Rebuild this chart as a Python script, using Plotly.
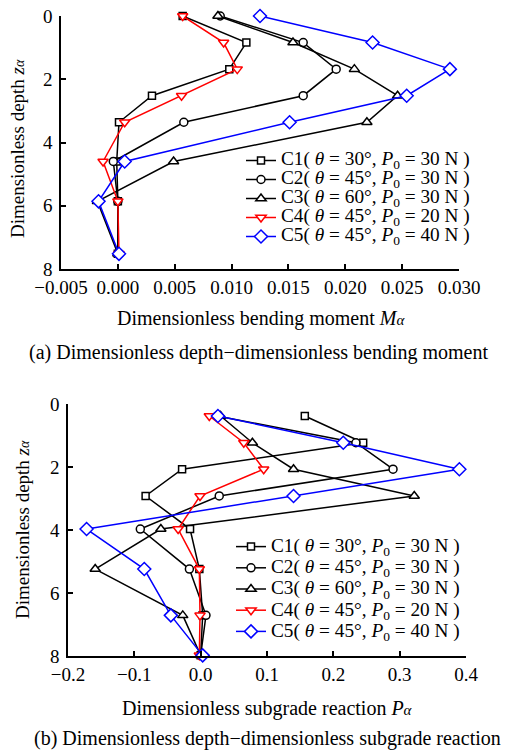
import plotly.graph_objects as go

W, H = 514, 751
FONT = "Liberation Serif, Times New Roman, serif"

# ---- data -------------------------------------------------------------
case_names = ["C1", "C2", "C3", "C4", "C5"]
theta_deg = [30, 45, 60, 45, 45]
load_n = [30, 30, 30, 20, 40]

# (a) bending moment along the pile
depth_moment = [0, 0.84, 1.68, 2.52, 3.36, 4.60, 5.86, 7.52]
moment_c1 = [0.0057, 0.0113, 0.0098, 0.0030, 0.0001, -0.0001, 0.0000, 0.0000]
moment_c2 = [0.0090, 0.0163, 0.0192, 0.0163, 0.0058, -0.0004, 0.0000, 0.0000]
moment_c3 = [0.0088, 0.0154, 0.0208, 0.0246, 0.0219, 0.0049, -0.0018, 0.0000]
moment_c4 = [0.0057, 0.0093, 0.0105, 0.0056, 0.0006, -0.0013, 0.0000, 0.0001]
moment_c5 = [0.0125, 0.0224, 0.0292, 0.0254, 0.0151, 0.0006, -0.0017, 0.0001]

# (b) subgrade reaction along the pile
depth_reaction = [0.38, 1.23, 2.07, 2.92, 3.97, 5.24, 6.71, 7.98]
reaction_c1 = [0.157, 0.245, -0.028, -0.083, -0.016, -0.002, 0.003, 0.000]
reaction_c2 = [0.025, 0.234, 0.290, 0.028, -0.091, -0.017, 0.008, 0.000]
reaction_c3 = [0.030, 0.078, 0.140, 0.322, -0.060, -0.159, -0.027, 0.000]
reaction_c4 = [0.013, 0.065, 0.095, -0.001, -0.034, -0.002, -0.001, -0.002]
reaction_c5 = [0.026, 0.215, 0.390, 0.140, -0.172, -0.085, -0.045, 0.003]

depth_ticks = [0, 2, 4, 6, 8]
moment_ticks = [-0.005, 0.000, 0.005, 0.010, 0.015, 0.020, 0.025, 0.030]
reaction_ticks = [-0.2, -0.1, 0.0, 0.1, 0.2, 0.3, 0.4]

# ---- styles -----------------------------------------------------------
colors = ["black", "black", "black", "red", "blue"]
symbols = ["square", "circle", "triangle-up", "triangle-down", "diamond"]
sizes = [7, 8, 9, 9, 10]


def px_x(p):
    return p / W


def px_y(p):
    return 1 - p / H


def label(i):
    return ("<span style='font-size:19.3px'>%s( <i>θ</i> = %d°, <i>P</i><sub>0</sub> = %d N )</span>"
            % (case_names[i], theta_deg[i], load_n[i]))


fig = go.Figure()

moments = [moment_c1, moment_c2, moment_c3, moment_c4, moment_c5]
reactions = [reaction_c1, reaction_c2, reaction_c3, reaction_c4, reaction_c5]

for i in range(5):
    fig.add_trace(go.Scatter(
        x=moments[i], y=depth_moment, mode="lines+markers", name=label(i),
        line=dict(color=colors[i], width=1.5),
        marker=dict(symbol=symbols[i], size=sizes[i], color="white",
                    line=dict(color=colors[i], width=1.5)),
        xaxis="x", yaxis="y", legend="legend", cliponaxis=False))

for i in range(5):
    fig.add_trace(go.Scatter(
        x=reactions[i], y=depth_reaction, mode="lines+markers", name=label(i),
        line=dict(color=colors[i], width=1.5),
        marker=dict(symbol=symbols[i], size=sizes[i], color="white",
                    line=dict(color=colors[i], width=1.5)),
        xaxis="x2", yaxis="y2", legend="legend2", cliponaxis=False))

axis_common = dict(showgrid=False, zeroline=False, showline=True, linecolor="black",
                   linewidth=1.5, ticks="inside", ticklen=5, tickwidth=1.5, tickcolor="black",
                   automargin=False,
                   tickfont=dict(family=FONT, size=19, color="black"))

fig.update_layout(
    template="none",
    width=W, height=H,
    margin=dict(l=0, r=0, t=0, b=0, autoexpand=False),
    paper_bgcolor="white", plot_bgcolor="white",
    font=dict(family=FONT, size=19, color="black"),
    xaxis=dict(domain=[px_x(61), px_x(459)], range=[-0.005, 0.030], anchor="y",
               tickvals=moment_ticks, tickformat=".3f", **axis_common),
    yaxis=dict(domain=[px_y(269), px_y(16)], range=[8, 0], anchor="x",
               tickvals=depth_ticks, ticklabelstandoff=3, **axis_common),
    xaxis2=dict(domain=[px_x(68), px_x(466)], range=[-0.2, 0.4], anchor="y2",
                tickvals=reaction_ticks, tickformat=".1f", **axis_common),
    yaxis2=dict(domain=[px_y(656), px_y(404)], range=[8, 0], anchor="x2",
                tickvals=depth_ticks, ticklabelstandoff=3, **axis_common),
    legend=dict(x=px_x(241), y=px_y(146), xanchor="left", yanchor="top",
                bgcolor="rgba(0,0,0,0)", font=dict(family=FONT, size=12, color="black"),
                tracegroupgap=0, borderwidth=0),
    legend2=dict(x=px_x(231), y=px_y(531), xanchor="left", yanchor="top",
                 bgcolor="rgba(0,0,0,0)", font=dict(family=FONT, size=14, color="black"),
                 tracegroupgap=0, borderwidth=0),
    showlegend=True,
)

ann = [
    dict(text="Dimensionless depth <i>z<span style='font-size:14px'>α</span></i>",
         x=px_x(18), y=px_y(149), textangle=-90, size=19),
    dict(text="Dimensionless bending moment <i>M<span style='font-size:15px'>α</span></i>",
         x=px_x(261), y=px_y(318), size=20),
    dict(text="(a) Dimensionless depth−dimensionless bending moment",
         x=px_x(258), y=px_y(353), size=20),
    dict(text="Dimensionless depth <i>z<span style='font-size:14px'>α</span></i>",
         x=px_x(22), y=px_y(530), textangle=-90, size=19),
    dict(text="Dimensionless subgrade reaction <i>P<span style='font-size:15px'>α</span></i>",
         x=px_x(267), y=px_y(708), size=20),
    dict(text="(b) Dimensionless depth−dimensionless subgrade reaction",
         x=px_x(267), y=px_y(738), size=20),
]
for a in ann:
    size = a.pop("size")
    fig.add_annotation(xref="paper", yref="paper", showarrow=False,
                       xanchor="center", yanchor="middle",
                       font=dict(family=FONT, size=size, color="black"), **a)

fig.write_html("out.html")
